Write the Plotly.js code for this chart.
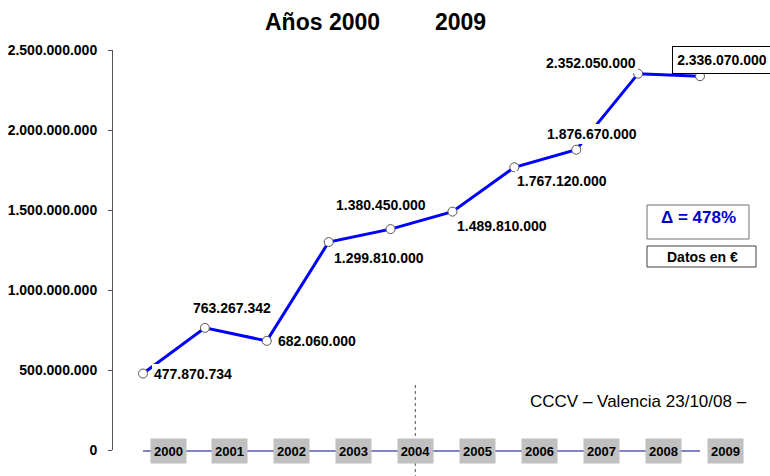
<!DOCTYPE html>
<html>
<head>
<meta charset="utf-8">
<script src="https://cdn.plot.ly/plotly-3.0.1.min.js"></script>
<style>html,body{margin:0;padding:0;background:#fff;}#chart{width:770px;height:476px;}</style>
</head>
<body>
<div id="chart"></div>
<script>
const years = [2000, 2001, 2002, 2003, 2004, 2005, 2006, 2007, 2008, 2009];
const values = [477870734, 763267342, 682060000, 1299810000, 1380450000, 1489810000, 1767120000, 1876670000, 2352050000, 2336070000];
const valueLabels = ['477.870.734', '763.267.342', '682.060.000', '1.299.810.000', '1.380.450.000', '1.489.810.000', '1.767.120.000', '1.876.670.000', '2.352.050.000', '2.336.070.000'];
const yTickVals = [0, 500000000, 1000000000, 1500000000, 2000000000, 2500000000];
const yTickText = ['0', '500.000.000', '1.000.000.000', '1.500.000.000', '2.000.000.000', '2.500.000.000'];
const titleLeft = 'Años 2000';
const titleRight = '2009';
const deltaText = 'Δ = 478%';
const unitText = 'Datos en €';
const footerText = 'CCCV – Valencia 23/10/08 –';

const FONT = 'Liberation Sans, Arial, sans-serif';

// label offsets (pixels) relative to each point
const labelShift = [[50,0],[27,20],[50,0],[50,-16],[-10,24],[50,-14],[48,-14],[16,16],[-47,11],[22,16]];

const annotations = [];
years.forEach((yr, i) => {
  const last = i === years.length - 1;
  annotations.push({
    xref: 'x', yref: 'y', x: yr, y: values[i],
    xshift: labelShift[i][0], yshift: labelShift[i][1],
    text: '<b>' + valueLabels[i] + '</b>', showarrow: false,
    font: {family: FONT, size: 14, color: '#000'},
    bgcolor: '#ffffff',
    bordercolor: last ? '#000000' : 'rgba(0,0,0,0)', borderwidth: last ? 1 : 0,
    borderpad: last ? 0 : 2,
    width: last ? 98 : undefined, height: last ? 26 : undefined,
    xanchor: 'center', yanchor: 'middle'
  });
  // year labels at the bottom
  annotations.push({
    xref: 'x', yref: 'y', x: yr, y: 0, xshift: 25, yshift: -1,
    text: '<b>' + yr + '</b>', showarrow: false,
    font: {family: FONT, size: 13, color: '#000'},
    bgcolor: '#c0c0c0', borderpad: 0, width: 35, height: 24,
    xanchor: 'center', yanchor: 'middle'
  });
});

annotations.push({xref:'paper', yref:'paper', x:(322-113)/657, y:(450-22)/400, text:'<b>'+titleLeft+'</b>', showarrow:false, font:{family:FONT,size:23,color:'#000'}, xanchor:'center', yanchor:'middle'});
annotations.push({xref:'paper', yref:'paper', x:(460-113)/657, y:(450-22)/400, text:'<b>'+titleRight+'</b>', showarrow:false, font:{family:FONT,size:23,color:'#000'}, xanchor:'center', yanchor:'middle'});
annotations.push({xref:'paper', yref:'paper', x:(698-113)/657, y:(450-217)/400, text:'<b>'+deltaText+'</b>', showarrow:false, font:{family:FONT,size:17,color:'#0000cc'}, xanchor:'center', yanchor:'middle'});
annotations.push({xref:'paper', yref:'paper', x:(702-113)/657, y:(450-256.5)/400, text:'<b>'+unitText+'</b>', showarrow:false, font:{family:FONT,size:14,color:'#000'}, xanchor:'center', yanchor:'middle'});
annotations.push({xref:'paper', yref:'paper', x:(749-113)/657, y:(450-401)/400, text:footerText, showarrow:false, font:{family:FONT,size:17,color:'#000'}, xanchor:'right', yanchor:'middle'});

const shapes = [
  // baseline linking year labels
  {type:'line', xref:'x', yref:'paper', x0:years[0], x1:years[years.length-1], y0:-0.0025, y1:-0.0025, line:{color:'#5a5ab4', width:1.5}, layer:'above'},
  // dotted vertical line
  {type:'line', xref:'x', yref:'paper', x0:2004.4, x1:2004.4, y0:(450-385)/400, y1:(450-476)/400, line:{color:'#505050', width:1, dash:'dot'}, layer:'above'},
  // delta box
  {type:'rect', xref:'paper', yref:'paper', x0:(647-113)/657, x1:(749-113)/657, y0:(450-239)/400, y1:(450-205)/400, line:{color:'#707070', width:1}, fillcolor:'rgba(0,0,0,0)'},
  // unit box
  {type:'rect', xref:'paper', yref:'paper', x0:(647-113)/657, x1:(756-113)/657, y0:(450-267)/400, y1:(450-246)/400, line:{color:'#404040', width:1}, fillcolor:'rgba(0,0,0,0)'}
];

const trace = {
  x: years, y: values, type: 'scatter', mode: 'lines+markers',
  line: {color: '#0000ff', width: 3},
  marker: {size: 9, color: '#ffffff', line: {color: '#555555', width: 1}},
  cliponaxis: false, hoverinfo: 'skip'
};

const layout = {
  width: 770, height: 476,
  margin: {l: 113, r: 0, t: 50, b: 26, pad: 0},
  paper_bgcolor: '#ffffff', plot_bgcolor: '#ffffff',
  showlegend: false,
  xaxis: {range: [1999.5153, 2010.131], visible: false, fixedrange: true},
  yaxis: {
    range: [0, 2500000000], tickvals: yTickVals, ticktext: yTickText,
    showgrid: false, zeroline: false, showline: true, linecolor: '#555555', linewidth: 1,
    ticks: 'outside', ticklen: 4, tickcolor: '#555555', ticklabelstandoff: 8,
    tickfont: {family: FONT, size: 14, color: '#000', weight: 'bold'}
  },
  annotations: annotations,
  shapes: shapes
};

Plotly.newPlot('chart', [trace], layout, {displayModeBar: false, staticPlot: true});
</script>
</body>
</html>
